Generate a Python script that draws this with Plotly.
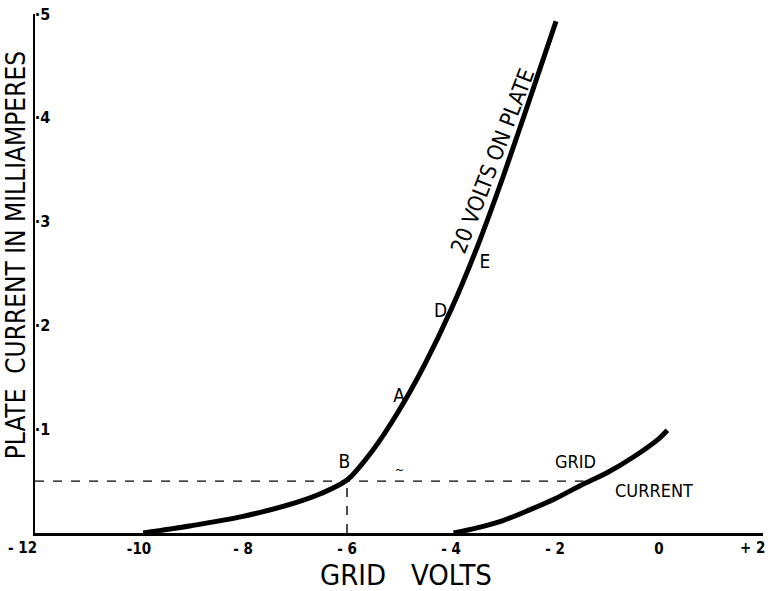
import plotly.graph_objects as go

# Data
plate_x = [-9.92, -9.0, -8.0, -7.0, -6.5, -6.0, -5.5, -5.0, -4.5, -4.0, -3.5, -3.0, -2.5, -1.98]
plate_y = [0.0, 0.007, 0.016, 0.029, 0.038, 0.051, 0.080, 0.118, 0.163, 0.215, 0.275, 0.343, 0.416, 0.493]

grid_x = [-3.95, -3.5, -3.0, -2.5, -2.0, -1.5, -1.0, -0.5, 0.0, 0.16]
grid_y = [0.0, 0.005, 0.012, 0.022, 0.033, 0.046, 0.058, 0.073, 0.091, 0.099]

hdash_x = [-12.0, -1.45]
hdash_y = [0.05, 0.05]
vdash_x = [-6.0, -6.0]
vdash_y = [0.0, 0.05]

x_ticks = [-10, -8, -6, -4, -2, 0]
x_ticktext = ["-10", "- 8", "- 6", "- 4", "- 2", "0"]
x_edge_ticks = [-12, 2]
x_edge_text = ["- 12", "+ 2"]
y_ticks = [0.1, 0.2, 0.3, 0.4, 0.5]
y_ticktext = ["·1", "·2", "·3", "·4", "·5"]

point_labels = ["B", "A", "D", "E"]
point_x = [-6.05, -5.0, -4.2, -3.35]
point_y = [0.067, 0.131, 0.213, 0.260]

FONT = "DejaVu Sans Condensed, sans-serif"
TFONT = "DejaVu Sans Condensed, sans-serif"

fig = go.Figure()
fig.add_trace(go.Scatter(x=hdash_x, y=hdash_y, mode="lines",
                         line=dict(color="black", width=1.4, dash="dash"), hoverinfo="skip"))
fig.add_trace(go.Scatter(x=vdash_x, y=vdash_y, mode="lines",
                         line=dict(color="black", width=1.4, dash="dash"), hoverinfo="skip"))
fig.add_trace(go.Scatter(x=plate_x, y=plate_y, mode="lines",
                         line=dict(color="black", width=5, shape="spline", smoothing=0.8)))
fig.add_trace(go.Scatter(x=grid_x, y=grid_y, mode="lines",
                         line=dict(color="black", width=5, shape="spline", smoothing=0.8)))

fig.add_trace(go.Scatter(x=point_x, y=point_y, mode="text", text=point_labels,
                         textfont=dict(family=FONT, size=19, color="black"),
                         textposition="middle center", hoverinfo="skip"))

annotations = [
    dict(x=-3.19, y=0.3585, text="20 VOLTS ON PLATE", textangle=-69, showarrow=False,
         font=dict(family=FONT, size=22, color="black")),
    dict(x=-1.6, y=0.069, text="GRID", showarrow=False,
         font=dict(family=FONT, size=18, color="black")),
    dict(x=-0.1, y=0.041, text="CURRENT", showarrow=False,
         font=dict(family=FONT, size=18, color="black")),
    dict(x=-5.0, y=0.061, text="~", showarrow=False,
         font=dict(family=FONT, size=12, color="black")),
    dict(x=0.51, y=-0.081, xref="paper", yref="paper", text="GRID&nbsp;&nbsp;&nbsp;VOLTS",
         showarrow=False, yanchor="middle", font=dict(family=FONT, size=29, color="black")),
    dict(x=0, y=0.535, xref="paper", yref="paper", text="PLATE&nbsp;&nbsp;CURRENT IN MILLIAMPERES",
         textangle=-90, showarrow=False, xanchor="center", xshift=-19,
         font=dict(family=FONT, size=26, color="black")),
]
edge_shift = [-13, -11]
for xv, tx, sh in zip(x_edge_ticks, x_edge_text, edge_shift):
    annotations.append(dict(x=xv, y=0, yref="paper", text="<b>" + tx + "</b>", showarrow=False,
                            yanchor="middle", yshift=-15, xshift=sh,
                            font=dict(family=TFONT, size=15, color="black")))

fig.update_layout(
    width=768, height=591,
    margin=dict(l=35, r=5, t=10, b=58),
    paper_bgcolor="white", plot_bgcolor="white",
    showlegend=False,
    annotations=annotations,
    xaxis=dict(range=[-12, 2], tickvals=x_ticks, ticktext=["<b>" + t + "</b>" for t in x_ticktext],
               showgrid=False, zeroline=False, showline=True, linecolor="black", linewidth=3,
               ticks="", tickfont=dict(family=TFONT, size=15, color="black")),
    yaxis=dict(range=[0, 0.5], tickvals=y_ticks, ticktext=["<b>" + t + "</b>" for t in y_ticktext],
               showgrid=False, zeroline=False, showline=True, linecolor="black", linewidth=2,
               ticks="", ticklabelposition="inside", ticklabeloverflow="allow",
               tickfont=dict(family=TFONT, size=16, color="black")),
)

fig.write_html("out.html")
